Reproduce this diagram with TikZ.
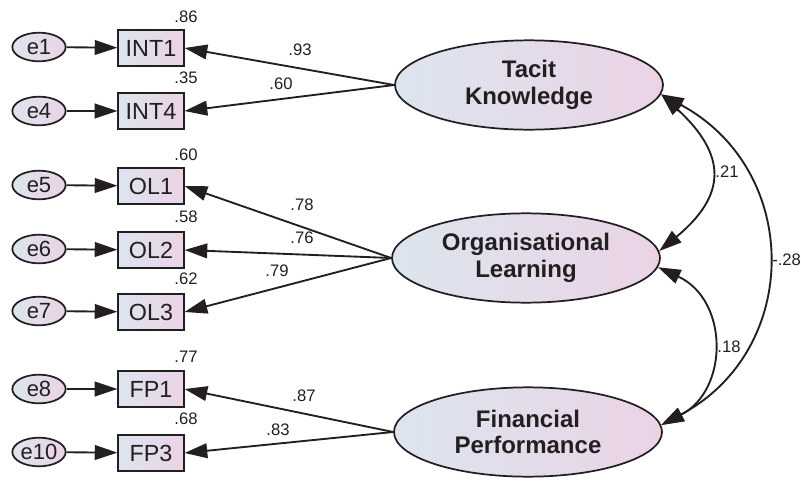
\documentclass[tikz,border=0pt]{standalone}
\usepackage{fontspec}
\setmainfont{Liberation Sans}
\usetikzlibrary{arrows.meta,shapes.geometric}

\definecolor{ink}{HTML}{231F20}
\definecolor{shadeL}{HTML}{DCE5EE}
\definecolor{shadeR}{HTML}{EBD3E6}

\tikzset{
  obs/.style={draw=ink, line width=1.4pt, rectangle, minimum width=49pt,
    minimum height=27pt, inner sep=0pt, left color=shadeL, right color=shadeR,
    font=\fontsize{17.5}{19}\selectfont, text=ink},
  err/.style={draw=ink, line width=1.3pt, ellipse, minimum width=40pt,
    minimum height=21.5pt, inner sep=0pt, left color=shadeL, right color=shadeR,
    font=\fontsize{16.5}{18}\selectfont, text=ink},
  lat/.style={draw=ink, line width=1.3pt, ellipse, minimum width=201pt,
    minimum height=67pt, inner sep=0pt, left color=shadeL, right color=shadeR,
    font=\bfseries\fontsize{18}{20}\selectfont, text=ink, align=center},
  arr/.style={draw=ink, line width=1.4pt, -{Triangle[length=17pt,width=11pt]}},
  biarr/.style={draw=ink, line width=1.4pt,
    {Triangle[length=17pt,width=11pt]}-{Triangle[length=17pt,width=11pt]}},
  est/.style={font=\fontsize{12.5}{14}\selectfont, text=ink, inner sep=0pt}
}

\begin{document}
\begin{tikzpicture}[x=0.75pt, y=-0.75pt]
\useasboundingbox (0,0) rectangle (801,482);

% latent factors
\node[lat] (tk) at (529,85)  {Tacit\\Knowledge};
\node[lat] (ol) at (526,258) {Organisational\\Learning};
\node[lat] (fp) at (528,432) {Financial\\Performance};

% indicators
\node[obs] (int1) at (151,48)  {INT1};
\node[obs] (int4) at (151,111) {INT4};
\node[obs] (ol1)  at (151,186) {OL1};
\node[obs] (ol2)  at (151,250) {OL2};
\node[obs] (ol3)  at (151,312) {OL3};
\node[obs] (fp1)  at (151,389) {FP1};
\node[obs] (fp3)  at (151,453) {FP3};

% error terms
\node[err] (e1)  at (39,47)  {e1};
\node[err] (e4)  at (39,111) {e4};
\node[err] (e5)  at (39,185) {e5};
\node[err] (e6)  at (39,249) {e6};
\node[err] (e7)  at (39,311) {e7};
\node[err] (e8)  at (39,389) {e8};
\node[err] (e10) at (39,452) {e10};

% error paths
\foreach \e/\v in {e1/int1,e4/int4,e5/ol1,e6/ol2,e7/ol3,e8/fp1,e10/fp3}
  \draw[arr] (\e) -- (\v);

% loadings
\draw[arr] (tk.west) -- (int1.east);
\draw[arr] (tk.west) -- (int4.east);
\draw[arr] (ol.west) -- (ol1.east);
\draw[arr] (ol.west) -- (ol2.east);
\draw[arr] (ol.west) -- (ol3.east);
\draw[arr] (fp.west) -- (fp1.east);
\draw[arr] (fp.west) -- (fp3.east);

% covariances
\draw[biarr] (tk.-4) .. controls (727,155) and (727,195) .. (ol.3);
\draw[biarr] (ol.-4) .. controls (729,300) and (729,390) .. (fp.3);
\draw[biarr] (tk.-4) .. controls (802,170) and (802,350) .. (fp.3);

% squared multiple correlations
\node[est] (r1) at (186,17)  {.86};
\node[est] (r2) at (186,78)  {.35};
\node[est] (r3) at (186,155) {.60};
\node[est] (r4) at (186,217) {.58};
\node[est] (r5) at (186,279) {.62};
\node[est] (r6) at (186,357) {.77};
\node[est] (r7) at (186,419) {.68};

% standardised estimates
\node[est] (l1) at (300,50)  {.93};
\node[est] (l2) at (281,84)  {.60};
\node[est] (l3) at (302,205) {.78};
\node[est] (l4) at (302,238) {.76};
\node[est] (l5) at (277,271) {.79};
\node[est] (l6) at (304,396) {.87};
\node[est] (l7) at (278,430) {.83};
\node[est] (c1) at (727,172) {.21};
\node[est] (c2) at (729,347) {.18};
\node[est, anchor=west] (c3) at (772,260) {-.28};
\end{tikzpicture}
\end{document}
